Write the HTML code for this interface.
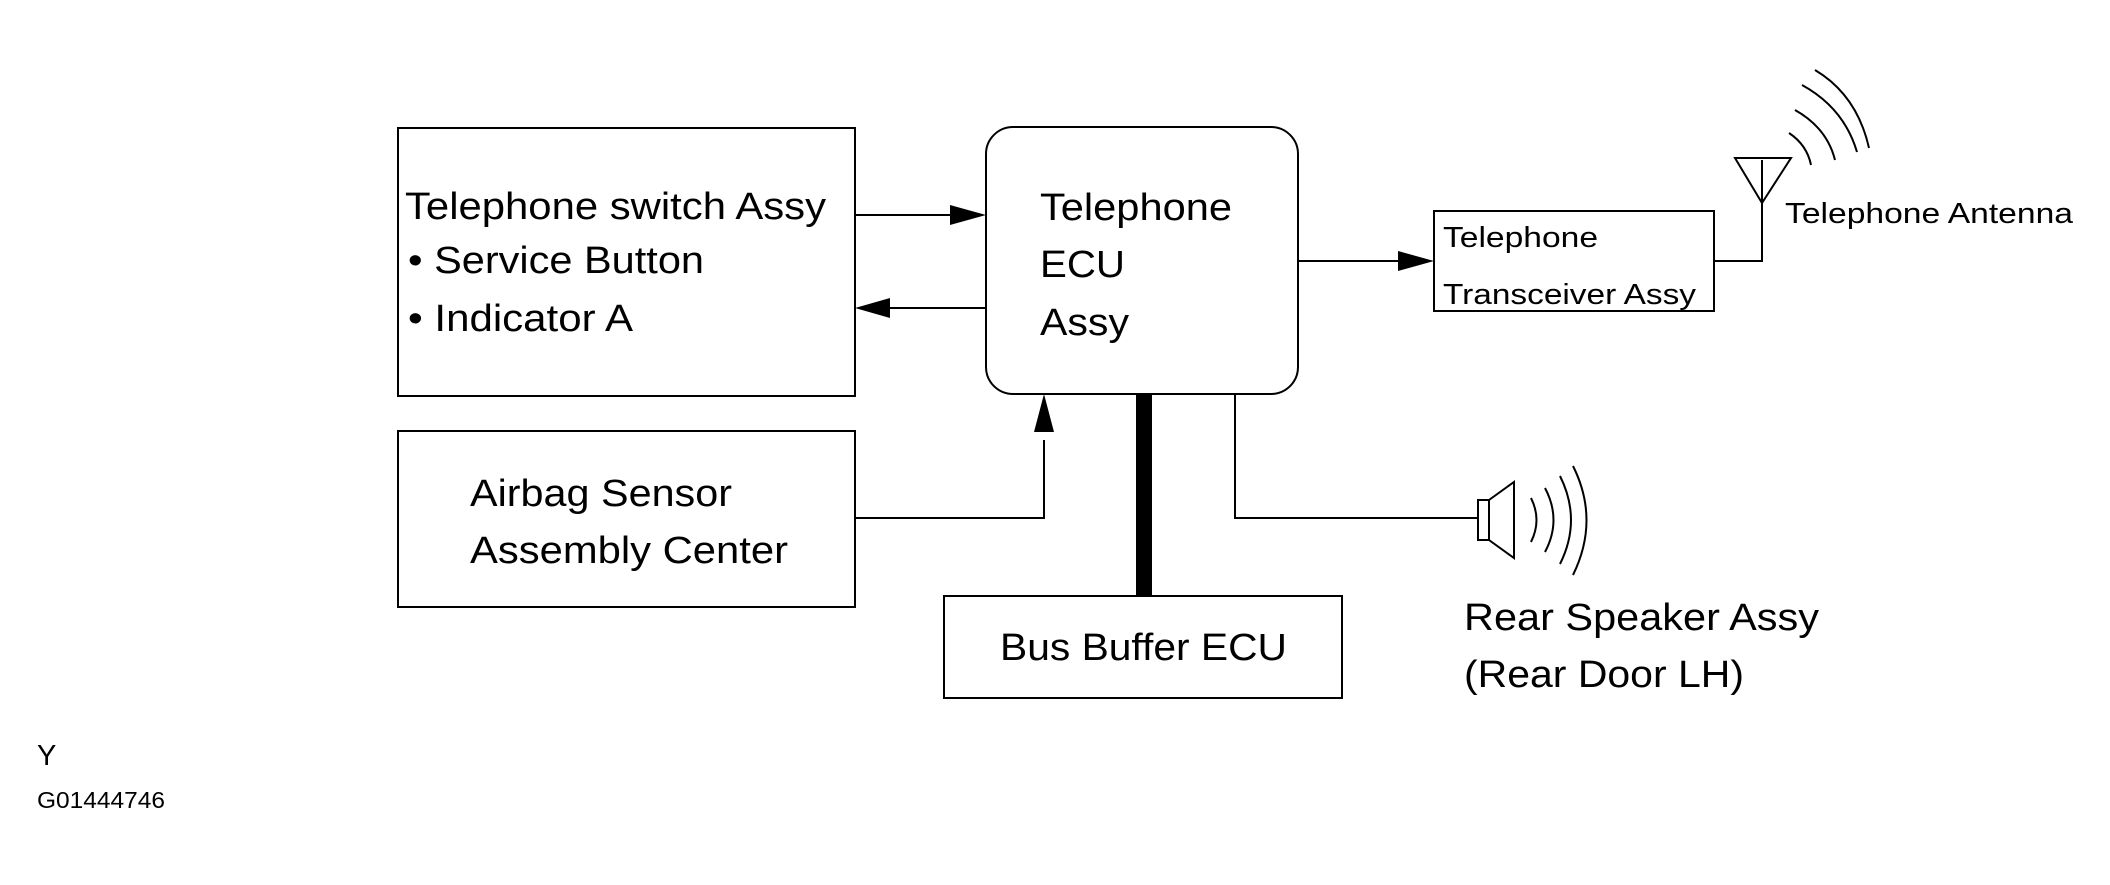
<!DOCTYPE html>
<html><head><meta charset="utf-8"><style>
html,body{margin:0;padding:0;background:#fff;}
svg{display:block;}
text{font-family:"Liberation Sans",Arial,sans-serif;fill:#000;}
</style></head><body>
<svg width="2110" height="885" viewBox="0 0 2110 885" xmlns="http://www.w3.org/2000/svg">
<g fill="none" stroke="#000" stroke-width="2">
<rect x="398" y="128" width="457" height="268"/>
<rect x="986" y="127" width="312" height="267" rx="27" ry="27"/>
<rect x="398" y="431" width="457" height="176"/>
<rect x="944" y="596" width="398" height="102"/>
<rect x="1434" y="211" width="280" height="100"/>
<line x1="855" y1="215" x2="955" y2="215"/>
<line x1="890" y1="308" x2="986" y2="308"/>
<polyline points="855,518 1044,518 1044,440"/>
<polyline points="1235,394 1235,518 1478,518"/>
<line x1="1298" y1="261" x2="1400" y2="261"/>
<polyline points="1714,261 1762,261 1762,160"/>
<polygon points="1735,158 1791,158 1762,203"/>
<rect x="1478" y="500" width="11" height="40"/>
<polygon points="1489,500 1514,482 1514,558 1489,540"/>
<path d="M1531,498 Q1542,520 1531,542"/>
<path d="M1545,488 Q1562,520 1545,552"/>
<path d="M1560,476 Q1582,520 1560,564"/>
<path d="M1573,466 Q1600,520 1573,575"/>
<path d="M1789,133 Q1807,145 1811,165"/>
<path d="M1795,110 Q1827,128 1835,160"/>
<path d="M1802,85 Q1844,108 1857,152"/>
<path d="M1815,70 Q1857,95 1869,148"/>
</g>
<rect x="1136" y="394" width="16" height="202" fill="#000"/>
<g fill="#000">
<polygon points="986,215 950,205 950,225"/>
<polygon points="855,308 890,298 890,318"/>
<polygon points="1044,394 1034,432 1054,432"/>
<polygon points="1434,261 1398,251 1398,271"/>
</g>
<g font-size="38">
<text x="405" y="219" textLength="421" lengthAdjust="spacingAndGlyphs">Telephone switch Assy</text>
<text x="408" y="273" textLength="296" lengthAdjust="spacingAndGlyphs">• Service Button</text>
<text x="408" y="331" textLength="225" lengthAdjust="spacingAndGlyphs">• Indicator A</text>
<text x="1040" y="220" textLength="192" lengthAdjust="spacingAndGlyphs">Telephone</text>
<text x="1040" y="277" textLength="85" lengthAdjust="spacingAndGlyphs">ECU</text>
<text x="1040" y="335" textLength="89" lengthAdjust="spacingAndGlyphs">Assy</text>
<text x="470" y="506" textLength="262" lengthAdjust="spacingAndGlyphs">Airbag Sensor</text>
<text x="470" y="563" textLength="318" lengthAdjust="spacingAndGlyphs">Assembly Center</text>
<text x="1000" y="660" textLength="287" lengthAdjust="spacingAndGlyphs">Bus Buffer ECU</text>
<text x="1464" y="630" textLength="355" lengthAdjust="spacingAndGlyphs">Rear Speaker Assy</text>
<text x="1464" y="687" textLength="280" lengthAdjust="spacingAndGlyphs">(Rear Door LH)</text>
</g>
<g font-size="29">
<text x="1443" y="247" textLength="155" lengthAdjust="spacingAndGlyphs">Telephone</text>
<text x="1443" y="304" textLength="253" lengthAdjust="spacingAndGlyphs">Transceiver Assy</text>
<text x="1785" y="223" textLength="288" lengthAdjust="spacingAndGlyphs">Telephone Antenna</text>
</g>
<text x="37" y="765" font-size="29">Y</text>
<text x="37" y="808" font-size="23" textLength="128" lengthAdjust="spacingAndGlyphs">G01444746</text>
</svg>
</body></html>
